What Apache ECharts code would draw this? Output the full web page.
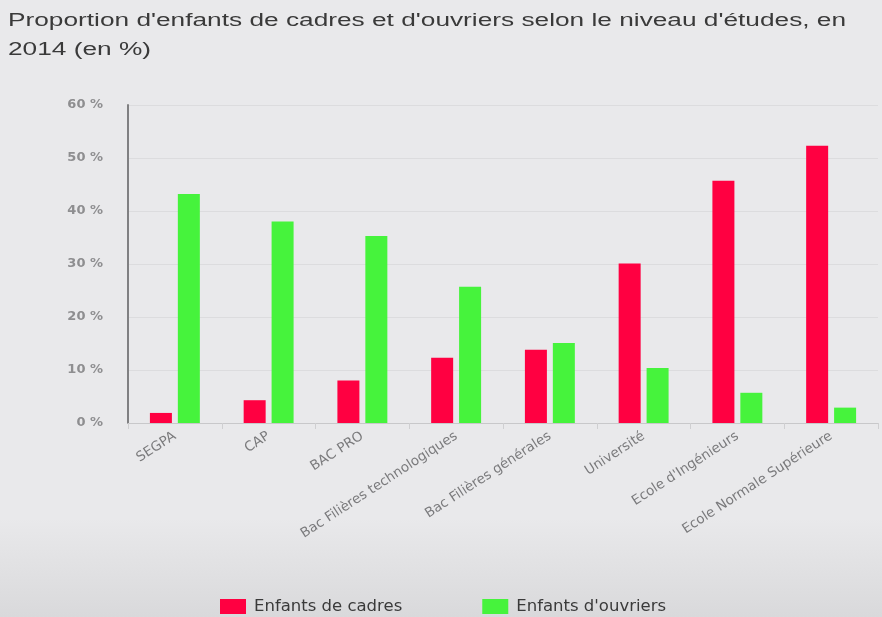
<!DOCTYPE html>
<html>
<head>
<meta charset="utf-8">
<script src="https://cdn.jsdelivr.net/npm/echarts@6/dist/echarts.min.js"></script>
<style>
  html, body { margin: 0; padding: 0; background: #e9e9eb; }
  #main { width: 882px; height: 617px; }
</style>
</head>
<body>
<div id="main"></div>
<script>
const categories = ['SEGPA', 'CAP', 'BAC PRO', 'Bac Filières technologiques', 'Bac Filières générales', 'Université', "Ecole d'Ingénieurs", 'Ecole Normale Supérieure']
const cadres = [1.9, 4.3, 8.0, 12.3, 13.8, 30.1, 45.7, 52.3]
const ouvriers = [43.2, 38.0, 35.3, 25.7, 15.1, 10.4, 5.7, 2.9]
const yTicks = [0, 10, 20, 30, 40, 50, 60]
const titleText = "Proportion d'enfants de cadres et d'ouvriers selon le niveau d'études, en\n2014 (en %)"

const myChart = echarts.init(document.getElementById('main'))

myChart.setOption({
  backgroundColor: new echarts.graphic.LinearGradient(0, 0, 0, 1, [
    { offset: 0, color: '#e9e9eb' },
    { offset: 0.84, color: '#e9e9eb' },
    { offset: 1, color: '#d9d9db' }
  ]),
  animation: false,
  // the title in the picture is drawn wider than a plain font, so stretch it
  graphic: [{
    type: 'text',
    left: 8,
    top: 7,
    scaleX: 1.5,
    style: {
      text: titleText,
      font: '17.5px "Liberation Sans"',
      fill: '#3a3a3a',
      lineHeight: 28.5
    }
  }],
  legend: {
    top: 598,
    left: 220,
    padding: 0,
    itemWidth: 26,
    itemHeight: 15,
    itemGap: 80,
    icon: 'rect',
    textStyle: { fontFamily: 'DejaVu Sans', fontSize: 16.5, color: '#3a3a3a', padding: [0, 0, 0, 3] },
    data: ['Enfants de cadres', "Enfants d'ouvriers"]
  },
  grid: { left: 128, right: 4, top: 105, bottom: 194 },
  xAxis: {
    type: 'category',
    data: categories,
    axisLine: { lineStyle: { color: '#c8c8ca', width: 1 } },
    axisTick: { show: true, length: 6, lineStyle: { color: '#cfcfd1' } },
    axisLabel: {
      rotate: 33,
      margin: 12,
      interval: 0,
      fontFamily: 'DejaVu Sans',
      fontSize: 13.5,
      color: '#7a7a7c'
    }
  },
  yAxis: {
    type: 'value',
    min: yTicks[0],
    max: yTicks[yTicks.length - 1],
    interval: 10,
    axisLine: { show: true, lineStyle: { color: '#808082', width: 2 } },
    axisTick: { show: false },
    axisLabel: {
      margin: 25,
      fontFamily: 'DejaVu Sans',
      fontSize: 13,
      fontWeight: 'bold',
      color: '#8e8e90',
      formatter: v => v + ' %'
    },
    splitLine: { lineStyle: { color: '#dcdcde' } }
  },
  series: [
    {
      name: 'Enfants de cadres',
      type: 'bar',
      data: cadres,
      barWidth: 22,
      barGap: '27%',
      itemStyle: { color: '#ff0041' }
    },
    {
      name: "Enfants d'ouvriers",
      type: 'bar',
      data: ouvriers,
      barWidth: 22,
      itemStyle: { color: '#46f33c' }
    }
  ]
})
</script>
</body>
</html>
